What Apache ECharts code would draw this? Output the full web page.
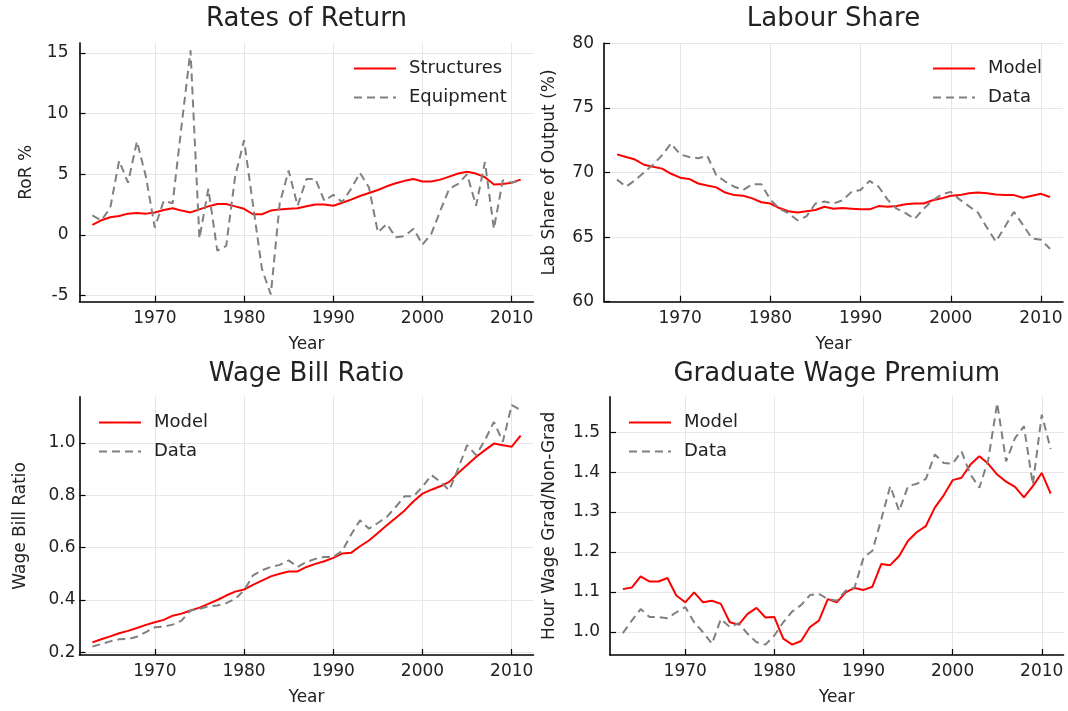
<!DOCTYPE html>
<html><head><meta charset="utf-8">
<script src="https://cdn.jsdelivr.net/npm/echarts@6/dist/echarts.min.js"></script>
<style>html,body{margin:0;padding:0;background:#fff}#c{width:1068px;height:711px}</style>
</head><body><div id="c"></div>
<script>
const years = [1963,1964,1965,1966,1967,1968,1969,1970,1971,1972,1973,1974,1975,1976,1977,1978,1979,1980,1981,1982,1983,1984,1985,1986,1987,1988,1989,1990,1991,1992,1993,1994,1995,1996,1997,1998,1999,2000,2001,2002,2003,2004,2005,2006,2007,2008,2009,2010,2011];
const xTicks = [1970,1980,1990,2000,2010];
const rorTicks = [-5,0,5,10,15];
const labTicks = [60,65,70,75,80];
const wbTicks = [0.2,0.4,0.6,0.8,1.0];
const gwpTicks = [1.0,1.1,1.2,1.3,1.4,1.5];

const rorStructures = [0.83,1.2,1.45,1.55,1.75,1.8,1.75,1.85,2.05,2.2,2.0,1.85,2.1,2.35,2.55,2.55,2.35,2.15,1.7,1.7,2.0,2.1,2.15,2.2,2.35,2.5,2.5,2.4,2.65,2.9,3.2,3.45,3.7,4.0,4.25,4.45,4.6,4.4,4.4,4.55,4.8,5.05,5.2,5.05,4.75,4.15,4.2,4.3,4.55];
const rorEquipment = [1.6,1.2,2.2,6.1,4.3,7.7,4.8,0.6,2.8,2.6,9.0,15.2,-0.3,3.8,-1.3,-0.9,4.8,7.8,2.5,-2.8,-4.9,2.6,5.3,2.4,4.6,4.6,2.8,3.3,2.7,3.8,5.1,3.9,0.2,0.9,-0.2,-0.1,0.5,-0.8,0.1,2.0,3.8,4.2,5.0,2.4,6.0,0.5,4.5,4.3,4.5];

const labModel = [71.4,71.2,71.0,70.6,70.45,70.3,69.9,69.6,69.5,69.15,69.0,68.85,68.45,68.25,68.2,68.0,67.7,67.6,67.25,67.0,66.9,67.0,67.1,67.35,67.2,67.25,67.2,67.15,67.15,67.4,67.35,67.4,67.55,67.6,67.6,67.85,68.0,68.2,68.25,68.4,68.45,68.4,68.3,68.25,68.25,68.05,68.2,68.35,68.1];
const labData = [69.45,68.9,69.4,70.0,70.6,71.35,72.25,71.4,71.2,71.1,71.3,69.8,69.3,68.9,68.65,69.1,69.1,67.9,67.2,66.85,66.3,66.6,67.6,67.75,67.6,67.85,68.5,68.65,69.35,68.9,67.9,67.2,66.85,66.4,67.2,67.85,68.3,68.5,67.9,67.4,66.9,65.75,64.65,65.8,66.95,65.95,64.9,64.8,64.1];

const wbModel = [0.238,0.25,0.261,0.273,0.282,0.293,0.305,0.315,0.324,0.34,0.348,0.36,0.371,0.385,0.40,0.417,0.432,0.44,0.458,0.474,0.49,0.50,0.509,0.509,0.526,0.538,0.548,0.561,0.577,0.58,0.605,0.627,0.656,0.685,0.713,0.742,0.777,0.806,0.821,0.834,0.851,0.885,0.915,0.946,0.972,0.997,0.991,0.985,1.027];
const wbData = [0.222,0.232,0.242,0.25,0.251,0.26,0.277,0.296,0.298,0.306,0.321,0.36,0.366,0.376,0.379,0.388,0.404,0.436,0.494,0.513,0.526,0.534,0.551,0.526,0.545,0.557,0.564,0.564,0.587,0.65,0.704,0.672,0.694,0.717,0.755,0.796,0.796,0.832,0.877,0.851,0.819,0.902,0.991,0.953,1.01,1.08,1.004,1.144,1.125];

const gwpModel = [1.107,1.111,1.139,1.126,1.126,1.135,1.091,1.074,1.099,1.074,1.078,1.07,1.024,1.018,1.045,1.06,1.036,1.037,0.983,0.968,0.977,1.012,1.028,1.082,1.074,1.099,1.11,1.105,1.113,1.17,1.167,1.19,1.228,1.25,1.265,1.311,1.342,1.38,1.386,1.419,1.44,1.421,1.394,1.376,1.363,1.337,1.365,1.398,1.346];
const gwpData = [0.997,1.028,1.057,1.037,1.037,1.034,1.049,1.062,1.024,0.999,0.97,1.032,1.012,1.022,0.995,0.974,0.968,0.991,1.024,1.051,1.067,1.092,1.095,1.082,1.078,1.103,1.111,1.186,1.203,1.282,1.365,1.303,1.365,1.371,1.383,1.444,1.423,1.421,1.452,1.394,1.361,1.431,1.573,1.427,1.485,1.515,1.369,1.544,1.458];

const FONT = 'DejaVu Sans';
const TXT = '#222';
const RED = '#ff0000';
const GRAY = '#808080';

const panels = [
  {title:'Rates of Return', grid:{left:79.5,top:43,width:454,height:258.7}, ymin:-5.503, ymax:15.803, yTicks:rorTicks, yName:'RoR %', yGap:44, yMargin:11, dec:0,
   s:[['Structures',rorStructures,RED,'solid'],['Equipment',rorEquipment,GRAY,[8,5]]], legend:{left:353, top:58.5}},
  {title:'Labour Share', grid:{left:604,top:43.3,width:459,height:258.4}, ymin:60, ymax:80, yTicks:labTicks, yName:'Lab Share of Output (%)', yGap:46, yMargin:10, dec:0,
   s:[['Model',labModel,RED,'solid'],['Data',labData,GRAY,[8,5]]], legend:{left:932, top:58.5}},
  {title:'Wage Bill Ratio', grid:{left:79.5,top:396.7,width:454,height:258.3}, ymin:0.19, ymax:1.176, yTicks:wbTicks, yName:'Wage Bill Ratio', yGap:50, yMargin:4, dec:1,
   s:[['Model',wbModel,RED,'solid'],['Data',wbData,GRAY,[8,5]]], legend:{left:98, top:412.5}},
  {title:'Graduate Wage Premium', grid:{left:610,top:396.7,width:453.5,height:258.3}, ymin:0.942, ymax:1.589, yTicks:gwpTicks, yName:'Hour Wage Grad/Non-Grad', yGap:52, yMargin:10, dec:1,
   s:[['Model',gwpModel,RED,'solid'],['Data',gwpData,GRAY,[8,5]]], legend:{left:628, top:412.5}}
];

const option = {
  animation:false,
  backgroundColor:'#fff',
  textStyle:{fontFamily:FONT},
  title:[], grid:[], xAxis:[], yAxis:[], legend:[], series:[]
};

panels.forEach((p,i)=>{
  option.grid.push(Object.assign({containLabel:false}, p.grid));
  option.title.push({text:p.title, left:p.grid.left + p.grid.width/2, top: i<2 ? 6 : 361, textAlign:'center', padding:0,
    textStyle:{fontSize:26, fontWeight:'normal', color:TXT, fontFamily:FONT}});
  option.xAxis.push({type:'value', gridIndex:i, min:1961.56, max:2012.44,
    name:'Year', nameLocation:'middle', nameGap:34, nameTextStyle:{fontSize:17, color:TXT, fontFamily:FONT},
    axisLine:{show:true, onZero:false, lineStyle:{color:'#000', width:1.6}},
    axisTick:{show:true, inside:true, length:6, customValues:xTicks, lineStyle:{color:'#000', width:1.2}},
    axisLabel:{customValues:xTicks, margin:8, fontSize:17, color:TXT, fontFamily:FONT, formatter:(v)=>String(Math.round(v))},
    splitLine:{show:true, lineStyle:{color:'#e6e6e6', width:1}}
  });
  option.yAxis.push({type:'value', gridIndex:i, min:p.ymin, max:p.ymax,
    name:p.yName, nameLocation:'middle', nameGap:p.yGap, nameTextStyle:{fontSize:17, color:TXT, fontFamily:FONT},
    axisLine:{show:true, onZero:false, lineStyle:{color:'#000', width:1.6}},
    axisTick:{show:true, inside:true, length:6, customValues:p.yTicks, lineStyle:{color:'#000', width:1.2}},
    axisLabel:{customValues:p.yTicks, margin:p.yMargin, fontSize:17, color:TXT, fontFamily:FONT,
      formatter:(v)=> p.dec ? Number(v).toFixed(p.dec) : String(Math.round(v))},
    splitLine:{show:true, lineStyle:{color:'#e6e6e6', width:1}}
  });
  option.legend.push({orient:'vertical', left:p.legend.left, top:p.legend.top, itemWidth:42, itemHeight:14, itemGap:9,
    padding:0, selectedMode:false, data:p.s.map(s=>s[0]),
    itemStyle:{opacity:0, borderWidth:0},
    textStyle:{fontSize:18, color:TXT, fontFamily:FONT, padding:[0,0,0,8], lineHeight:20}});
  p.s.forEach(s=>{
    option.series.push({type:'line', name:s[0], xAxisIndex:i, yAxisIndex:i, symbol:'none', showSymbol:false,
      data: years.map((y,k)=>[y, s[1][k]]),
      lineStyle:{color:s[2], width:2, type:s[3]}, itemStyle:{color:s[2]}});
  });
});

const chart = echarts.init(document.getElementById('c'), null, {renderer:'canvas'});
chart.setOption(option);
</script></body></html>
